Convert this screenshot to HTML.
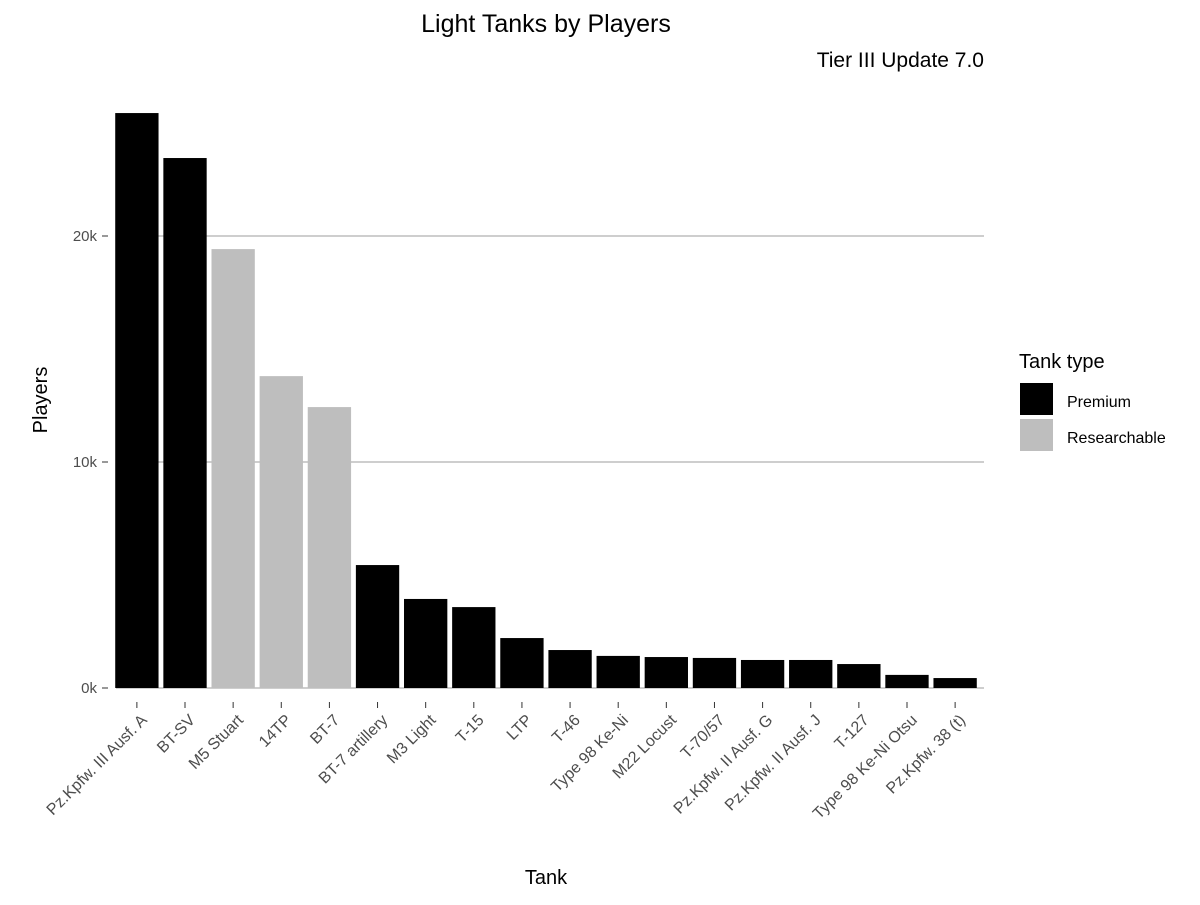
<!DOCTYPE html>
<html><head><meta charset="utf-8"><style>
html,body{margin:0;padding:0;background:#fff}
svg{font-family:"Liberation Sans",Arial,sans-serif}
</style></head><body>
<svg id="chart" width="1200" height="900" viewBox="0 0 1200 900">
<text x="546" y="32" font-size="25" text-anchor="middle" fill="#000">Light Tanks by Players</text>
<text x="984" y="67" font-size="21" text-anchor="end" fill="#000">Tier III Update 7.0</text>
<text transform="translate(47,400) rotate(-90)" font-size="20" text-anchor="middle" fill="#000">Players</text>
<text x="546" y="884" font-size="20" text-anchor="middle" fill="#000">Tank</text>
<g id="grid"></g><g id="bars"></g><g id="xlabels"></g><g id="ylabels"></g>
<g>
<text x="1019" y="368" font-size="20" fill="#000">Tank type</text>
<rect x="1020" y="383" width="33" height="32" fill="#000"/>
<text x="1067" y="407" font-size="16" fill="#000">Premium</text>
<rect x="1020" y="419" width="33" height="32" fill="#bebebe"/>
<text x="1067" y="443" font-size="16" fill="#000">Researchable</text>
</g>
</svg>
<script>
const categories=["Pz.Kpfw. III Ausf. A","BT-SV","M5 Stuart","14TP","BT-7","BT-7 artillery","M3 Light","T-15","LTP","T-46","Type 98 Ke-Ni","M22 Locust","T-70/57","Pz.Kpfw. II Ausf. G","Pz.Kpfw. II Ausf. J","T-127","Type 98 Ke-Ni Otsu","Pz.Kpfw. 38 (t)"];
const players=[25440,23450,19420,13800,12430,5440,3940,3580,2210,1680,1420,1370,1330,1240,1240,1060,580,440];
const types=["Premium","Premium","Researchable","Researchable","Researchable","Premium","Premium","Premium","Premium","Premium","Premium","Premium","Premium","Premium","Premium","Premium","Premium","Premium"];
const yTicks=[0,10000,20000];
const yTickLabels=["0k","10k","20k"];
const NS="http://www.w3.org/2000/svg";
const left=108,right=984,y0=688,pxPerUnit=0.0226;
const step=(right-left)/(categories.length+0.2);
const xc=i=>left+step*(0.6+i);
const y=v=>y0-v*pxPerUnit;
function mk(tag,attrs,parent){const e=document.createElementNS(NS,tag);for(const k in attrs)e.setAttribute(k,attrs[k]);parent.appendChild(e);return e;}
const grid=document.getElementById('grid'),bars=document.getElementById('bars'),xl=document.getElementById('xlabels'),yl=document.getElementById('ylabels');
yTicks.forEach((t,i)=>{
 const l=mk('line',{x1:116,x2:right,y1:y(t),y2:y(t),stroke:'#bebebe','stroke-width':1.5},grid);
 
 
 const tk=mk('line',{x1:102,x2:108,y1:y(t),y2:y(t),stroke:'#333','stroke-width':1},yl);
 
 
 const tx=mk('text',{x:97,y:y(t)+5,'font-size':15,'text-anchor':'end',fill:'#4d4d4d'},yl);
 tx.textContent=yTickLabels[i];
 
 
});
const bw=step*0.9;
categories.forEach((c,i)=>{
 const r=mk('rect',{x:xc(i)-bw/2,y:y(players[i]),width:bw,height:y0-y(players[i]),fill:types[i]==="Premium"?'#000':'#bebebe'},bars);
 
 
 const tk=mk('line',{x1:xc(i),x2:xc(i),y1:702,y2:708,stroke:'#333','stroke-width':1},xl);
 
 
 const t=mk('text',{transform:`translate(${xc(i)+11},${721}) rotate(-45)`,'font-size':16,'text-anchor':'end',fill:'#4d4d4d'},xl);
 t.textContent=c;
 
 
});
</script>
</body></html>
